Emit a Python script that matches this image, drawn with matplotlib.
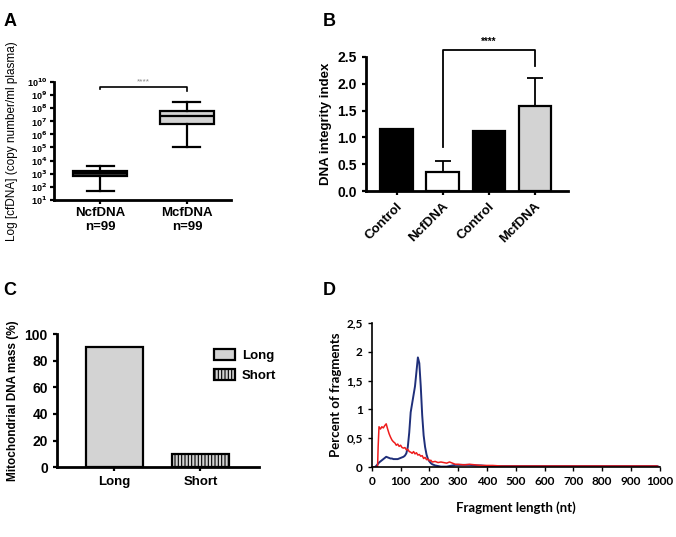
import numpy as np
import matplotlib
matplotlib.use("Agg")
import matplotlib.pyplot as plt

plt.rcParams['font.family'] = ['Liberation Sans', 'DejaVu Sans']
plt.rcParams['hatch.linewidth'] = 0.8
plt.rcParams['mathtext.default'] = 'bf'

# --- panel A: box plot of cfDNA copies (log10 values) ---
a_groups = ["NcfDNA\nn=99", "McfDNA\nn=99"]
a_whislo = [1.7, 5.05]
a_q1 = [2.85, 6.8]
a_med = [3.05, 7.4]
a_q3 = [3.22, 7.8]
a_whishi = [3.6, 8.5]
a_fill = ["#3a3a3a", "#d3d3d3"]

# --- panel B: DNA integrity index ---
b_labels = ["Control", "NcfDNA", "Control", "McfDNA"]
b_values = [1.15, 0.36, 1.12, 1.58]
b_err = [0, 0.21, 0, 0.52]
b_fill = ["black", "white", "black", "#d3d3d3"]

# --- panel C: mitochondrial DNA mass ---
c_labels = ["Long", "Short"]
c_values = [90, 10]

# --- panel D: fragment length distributions ---
d_x = [0, 10, 15, 20, 22, 25, 30, 35, 40, 45, 50, 55, 60, 65, 70, 75, 80, 85, 90,
       95, 100, 105, 110, 115, 120, 125, 130, 135, 140, 145, 150, 155, 160, 165,
       170, 175, 180, 185, 190, 195, 200, 205, 210, 220, 230, 240, 250, 260, 270,
       280, 290, 300, 320, 340, 360, 380, 400, 420, 450, 500, 600, 700, 800, 900,
       990, 1000]
d_red = [0, 0, 0, 0, 0.35, 0.70, 0.66, 0.70, 0.68, 0.72, 0.75, 0.66, 0.58, 0.52,
         0.47, 0.44, 0.42, 0.38, 0.40, 0.36, 0.38, 0.34, 0.33, 0.34, 0.30, 0.31,
         0.27, 0.26, 0.24, 0.27, 0.23, 0.25, 0.21, 0.22, 0.19, 0.20, 0.15, 0.17,
         0.13, 0.14, 0.11, 0.12, 0.09, 0.10, 0.08, 0.09, 0.08, 0.07, 0.09, 0.07,
         0.05, 0.05, 0.04, 0.05, 0.04, 0.03, 0.03, 0.03, 0.02, 0.02, 0.02, 0.02,
         0.02, 0.02, 0.02, 0.0]
d_blue = [0, 0, 0.02, 0.05, 0.06, 0.08, 0.10, 0.12, 0.14, 0.16, 0.18, 0.17, 0.16,
          0.15, 0.15, 0.14, 0.14, 0.14, 0.14, 0.15, 0.16, 0.17, 0.18, 0.20, 0.24,
          0.35, 0.60, 0.95, 1.10, 1.25, 1.40, 1.65, 1.90, 1.80, 1.40, 0.90, 0.55,
          0.35, 0.22, 0.14, 0.10, 0.07, 0.05, 0.03, 0.02, 0.01, 0.01, 0.01, 0.02,
          0.03, 0.04, 0.04, 0.04, 0.04, 0.03, 0.03, 0.02, 0.02, 0.02, 0.02, 0.02,
          0.02, 0.02, 0.02, 0.02, 0.0]

fig = plt.figure(figsize=(6.76, 5.37), dpi=100)

# ---------------- A ----------------
axA = fig.add_axes([0.080, 0.628, 0.262, 0.219])
stats = []
for i in range(2):
    stats.append(dict(med=a_med[i], q1=a_q1[i], q3=a_q3[i],
                      whislo=a_whislo[i], whishi=a_whishi[i], fliers=[]))
bp = axA.bxp(stats, positions=[1, 2], widths=0.62, patch_artist=True,
             showfliers=False,
             boxprops=dict(linewidth=1.6, edgecolor="black"),
             medianprops=dict(color="black", linewidth=1.6),
             whiskerprops=dict(linewidth=1.6),
             capprops=dict(linewidth=1.6))
for patch, col in zip(bp['boxes'], a_fill):
    patch.set_facecolor(col)
axA.set_xlim(0.47, 2.51)
axA.set_ylim(1, 10)
axA.set_yticks(range(1, 11))
axA.set_yticklabels(["10$^{%d}$" % k for k in range(1, 11)], fontsize=6.5, fontweight="bold")
axA.set_xticks([1, 2])
axA.set_xticklabels(a_groups, fontsize=9.5, fontweight="bold")
axA.plot([1, 1, 2, 2], [9.45, 9.6, 9.6, 9.35], color="black", lw=1.2)
axA.text(1.5, 9.72, "****", ha="center", va="bottom", fontsize=6, color="#888888")
axA.set_ylabel("Log [cfDNA] (copy number/ml plasma)", fontsize=8.5, labelpad=6)
for s in ["top", "right"]:
    axA.spines[s].set_visible(False)
for s in ["left", "bottom"]:
    axA.spines[s].set_linewidth(2)
axA.tick_params(width=1.6, length=3, pad=2)

# ---------------- B ----------------
axB = fig.add_axes([0.541, 0.644, 0.299, 0.250])
xb = np.arange(len(b_values))
axB.bar(xb, b_values, width=0.7, color=b_fill, edgecolor="black", linewidth=1.6)
for i in range(len(b_values)):
    if b_err[i] > 0:
        axB.errorbar(xb[i], b_values[i], yerr=[[0], [b_err[i]]], color="black",
                     capsize=6, elinewidth=1.3, capthick=1.3)
axB.plot([1, 1, 3, 3], [0.82, 2.63, 2.63, 2.33], color="black", lw=1.3, clip_on=False)
axB.text(2, 2.68, "****", ha="center", va="bottom", fontsize=7, fontweight="bold")
axB.set_xlim(-0.67, 3.72)
axB.set_ylim(0, 2.5)
axB.set_yticks([0, 0.5, 1.0, 1.5, 2.0, 2.5])
axB.set_yticklabels(["0.0", "0.5", "1.0", "1.5", "2.0", "2.5"], fontsize=10, fontweight="bold")
axB.set_xticks(xb)
axB.set_xticklabels(b_labels, rotation=45, ha="right", rotation_mode="anchor",
                    fontsize=9.5, fontweight="bold")
axB.set_ylabel("DNA integrity index", fontsize=9.5, fontweight="bold")
for s in ["top", "right"]:
    axB.spines[s].set_visible(False)
for s in ["left", "bottom"]:
    axB.spines[s].set_linewidth(2)
axB.tick_params(width=1.6, length=3)

# ---------------- C ----------------
axC = fig.add_axes([0.084, 0.130, 0.299, 0.248])
xc = np.arange(len(c_values))
barsC = axC.bar(xc, c_values, width=0.66, color="#d3d3d3", edgecolor="black", linewidth=1.6)
barsC[1].set_hatch("|||||")
axC.legend(barsC, c_labels, loc="upper left", bbox_to_anchor=(0.72, 0.98), frameon=False,
           prop=dict(weight="bold", size=9.5), handlelength=1.6, handleheight=1.0,
           labelspacing=0.5, handletextpad=0.5)
axC.set_xlim(-0.67, 1.68)
axC.set_ylim(0, 100)
axC.set_yticks([0, 20, 40, 60, 80, 100])
axC.set_yticklabels([0, 20, 40, 60, 80, 100], fontsize=10, fontweight="bold")
axC.set_xticks(xc)
axC.set_xticklabels(c_labels, fontsize=9.5, fontweight="bold")
axC.set_ylabel("Mitochondrial DNA mass (%)", fontsize=8.5, fontweight="bold")
for s in ["top", "right"]:
    axC.spines[s].set_visible(False)
for s in ["left", "bottom"]:
    axC.spines[s].set_linewidth(2)
axC.tick_params(width=1.6, length=3)

# ---------------- D ----------------
axD = fig.add_axes([0.550, 0.130, 0.426, 0.269])
axD.plot(d_x, d_blue, color="#1f2f7a", lw=1.4)
axD.plot(d_x, d_red, color="#ee1c1c", lw=1.1)
axD.set_xlim(0, 1000)
axD.set_ylim(0, 2.5)
axD.set_xticks(range(0, 1001, 100))
axD.set_xticklabels([str(v) for v in range(0, 1001, 100)], fontsize=8.5,
                    family="Lato", fontweight="bold")
axD.set_yticks([0, 0.5, 1, 1.5, 2, 2.5])
axD.set_yticklabels(["0", "0,5", "1", "1,5", "2", "2,5"], fontsize=8.5,
                    family="Lato", fontweight="bold")
axD.set_xlabel("Fragment length (nt)", fontsize=9.5, family="Lato", fontweight="bold",
               labelpad=10)
axD.set_ylabel("Percent of fragments", fontsize=9.5, family="Lato", fontweight="bold",
               labelpad=3)
for s in ["top", "right"]:
    axD.spines[s].set_visible(False)
for s in ["left", "bottom"]:
    axD.spines[s].set_linewidth(1.2)
axD.tick_params(width=1.0, length=3)

# panel letters
for lbl, x, y in [("A", 0.005, 0.975), ("B", 0.478, 0.975), ("C", 0.005, 0.475), ("D", 0.478, 0.475)]:
    fig.text(x, y, lbl, fontsize=13, fontweight="bold", va="top", ha="left")

fig.savefig("out.png", dpi=100)
